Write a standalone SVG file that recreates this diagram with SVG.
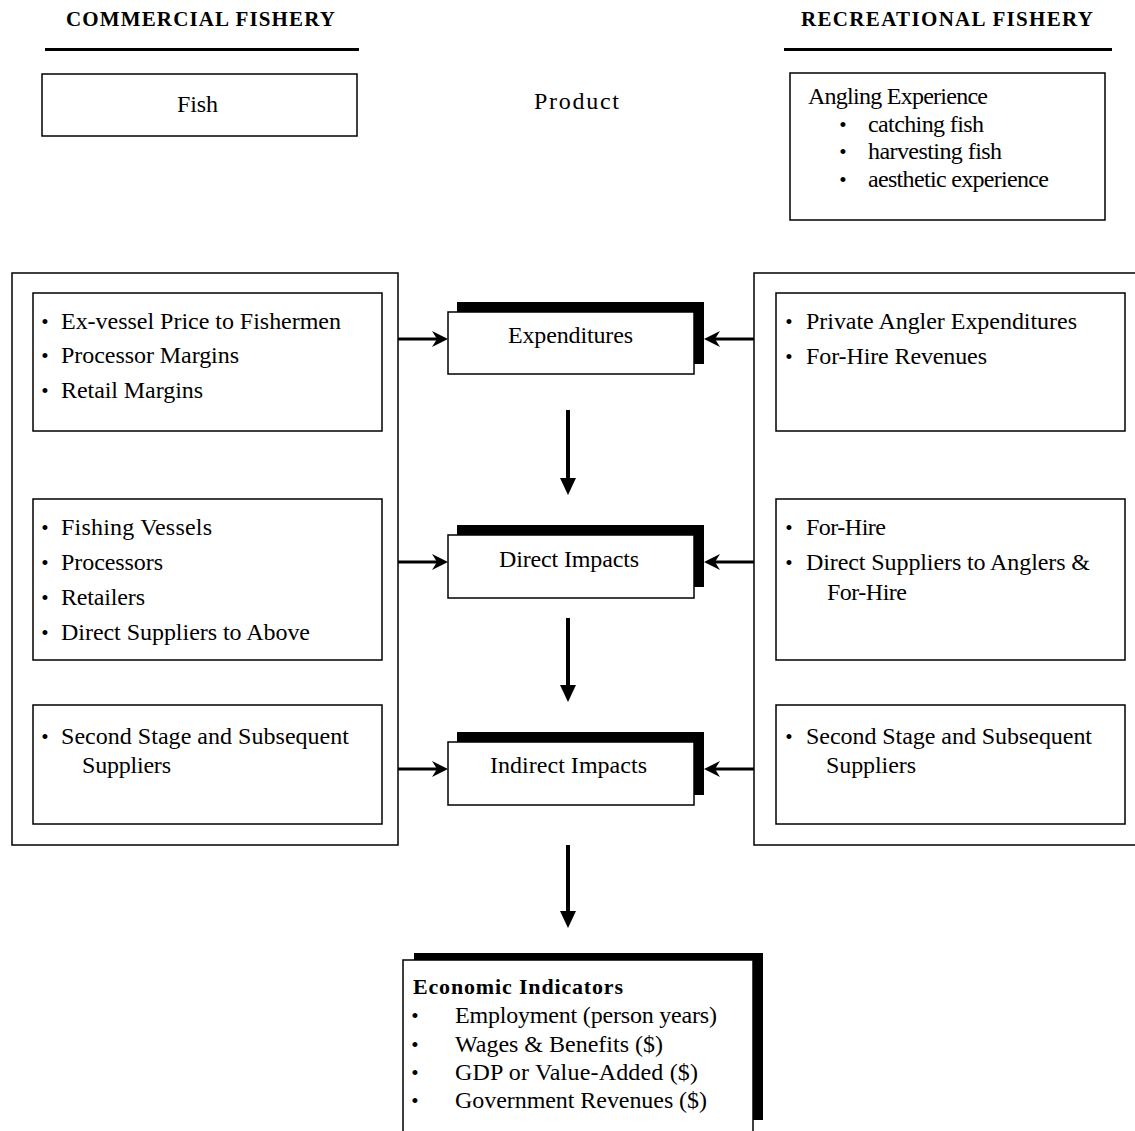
<svg xmlns="http://www.w3.org/2000/svg" width="1135" height="1131" viewBox="0 0 1135 1131">
<style>
.t{font-family:"Liberation Serif","Times New Roman",serif;font-size:24px;fill:#000}
.hd{font-family:"Liberation Serif","Times New Roman",serif;font-size:21px;font-weight:bold;fill:#000}
.bb{font-family:"Liberation Serif","Times New Roman",serif;font-size:22px;font-weight:bold;fill:#000}
.bu{font-family:"Liberation Serif","Times New Roman",serif;font-size:21px;fill:#000}
.box{fill:#fff;stroke:#000;stroke-width:1.5}
.sh{fill:#000}
.ha{stroke:#000;stroke-width:3;fill:none;marker-end:url(#ah)}
.va{stroke:#000;stroke-width:4;fill:none;marker-end:url(#dh)}
</style>
<defs>
<marker id="ah" viewBox="0 0 16 16" markerWidth="16" markerHeight="16" refX="8" refY="8" orient="auto" markerUnits="userSpaceOnUse"><path d="M0,0 L16,8 L0,16 L5,8 z" fill="#000"/></marker>
<marker id="dh" viewBox="0 0 17 16" markerWidth="17" markerHeight="16" refX="5" refY="8" orient="auto" markerUnits="userSpaceOnUse"><path d="M0,0 L17,8 L0,16 z" fill="#000"/></marker>
</defs>
<rect width="1135" height="1131" fill="#fff"/>

<g id="hdr-commercial">
<text class="hd" x="66" y="26" textLength="269">COMMERCIAL FISHERY</text>
<rect x="45" y="48" width="314" height="3" fill="#000"/>
</g>
<g id="hdr-recreational">
<text class="hd" x="801" y="26" textLength="292">RECREATIONAL FISHERY</text>
<rect x="784" y="48" width="328" height="3" fill="#000"/>
</g>

<g id="fish">
<rect class="box" x="42" y="74" width="315" height="62"/>
<text class="t" x="177" y="112" textLength="41">Fish</text>
</g>
<g id="product">
<text class="t" x="534" y="109" textLength="85">Product</text>
</g>
<g id="angling">
<rect class="box" x="790" y="73" width="315" height="147"/>
<text class="t" x="808" y="104" textLength="180">Angling Experience</text>
<text class="bu" x="843" y="132" text-anchor="middle">•</text>
<text class="t" x="868" y="132" textLength="116">catching fish</text>
<text class="bu" x="843" y="159" text-anchor="middle">•</text>
<text class="t" x="868" y="159" textLength="134">harvesting fish</text>
<text class="bu" x="843" y="187" text-anchor="middle">•</text>
<text class="t" x="868" y="187" textLength="181">aesthetic experience</text>
</g>

<g id="left-outer"><rect class="box" x="12" y="273" width="386" height="572"/></g>
<g id="right-outer"><rect class="box" x="754" y="273" width="400" height="572"/></g>

<g id="left-1">
<rect class="box" x="33" y="293" width="349" height="138"/>
<text class="bu" x="45" y="329" text-anchor="middle">•</text>
<text class="t" x="61" y="329" textLength="280">Ex-vessel Price to Fishermen</text>
<text class="bu" x="45" y="363" text-anchor="middle">•</text>
<text class="t" x="61" y="363" textLength="178">Processor Margins</text>
<text class="bu" x="45" y="398" text-anchor="middle">•</text>
<text class="t" x="61" y="398" textLength="142">Retail Margins</text>
</g>
<g id="left-2">
<rect class="box" x="33" y="499" width="349" height="161"/>
<text class="bu" x="45" y="535" text-anchor="middle">•</text>
<text class="t" x="61" y="535" textLength="151">Fishing Vessels</text>
<text class="bu" x="45" y="570" text-anchor="middle">•</text>
<text class="t" x="61" y="570" textLength="102">Processors</text>
<text class="bu" x="45" y="605" text-anchor="middle">•</text>
<text class="t" x="61" y="605" textLength="84">Retailers</text>
<text class="bu" x="45" y="640" text-anchor="middle">•</text>
<text class="t" x="61" y="640" textLength="249">Direct Suppliers to Above</text>
</g>
<g id="left-3">
<rect class="box" x="33" y="705" width="349" height="119"/>
<text class="bu" x="45" y="744" text-anchor="middle">•</text>
<text class="t" x="61" y="744" textLength="288">Second Stage and Subsequent</text>
<text class="t" x="82" y="773" textLength="89">Suppliers</text>
</g>

<g id="right-1">
<rect class="box" x="776" y="293" width="349" height="138"/>
<text class="bu" x="789" y="329" text-anchor="middle">•</text>
<text class="t" x="806" y="329" textLength="271">Private Angler Expenditures</text>
<text class="bu" x="789" y="364" text-anchor="middle">•</text>
<text class="t" x="806" y="364" textLength="181">For-Hire Revenues</text>
</g>
<g id="right-2">
<rect class="box" x="776" y="499" width="349" height="161"/>
<text class="bu" x="789" y="535" text-anchor="middle">•</text>
<text class="t" x="806" y="535" textLength="80">For-Hire</text>
<text class="bu" x="789" y="570" text-anchor="middle">•</text>
<text class="t" x="806" y="570" textLength="284">Direct Suppliers to Anglers &amp;</text>
<text class="t" x="827" y="600" textLength="80">For-Hire</text>
</g>
<g id="right-3">
<rect class="box" x="776" y="705" width="349" height="119"/>
<text class="bu" x="789" y="744" text-anchor="middle">•</text>
<text class="t" x="806" y="744" textLength="286">Second Stage and Subsequent</text>
<text class="t" x="826" y="773" textLength="90">Suppliers</text>
</g>

<g id="expenditures">
<rect class="sh" x="457" y="302" width="247" height="62"/>
<rect class="box" x="448" y="312" width="246" height="62"/>
<text class="t" x="508" y="343" textLength="125">Expenditures</text>
</g>
<g id="direct">
<rect class="sh" x="457" y="525" width="247" height="62"/>
<rect class="box" x="448" y="535" width="246" height="63"/>
<text class="t" x="499" y="567" textLength="140">Direct Impacts</text>
</g>
<g id="indirect">
<rect class="sh" x="457" y="732" width="247" height="63"/>
<rect class="box" x="448" y="742" width="246" height="63"/>
<text class="t" x="490" y="773" textLength="157">Indirect Impacts</text>
</g>

<g id="indicators">
<rect class="sh" x="414" y="953" width="349" height="167"/>
<rect class="box" x="403" y="960" width="350" height="185"/>
<text class="bb" x="413" y="994" textLength="210">Economic Indicators</text>
<text class="bu" x="415" y="1023" text-anchor="middle">•</text>
<text class="t" x="455" y="1023" textLength="262">Employment (person years)</text>
<text class="bu" x="415" y="1052" text-anchor="middle">•</text>
<text class="t" x="455" y="1052" textLength="208">Wages &amp; Benefits ($)</text>
<text class="bu" x="415" y="1080" text-anchor="middle">•</text>
<text class="t" x="455" y="1080" textLength="243">GDP or Value-Added ($)</text>
<text class="bu" x="415" y="1108" text-anchor="middle">•</text>
<text class="t" x="455" y="1108" textLength="252">Government Revenues ($)</text>
</g>

<g id="connectors">
<line class="ha" x1="398" y1="339" x2="440" y2="339"/>
<line class="ha" x1="754" y1="339" x2="712" y2="339"/>
<line class="ha" x1="398" y1="562" x2="440" y2="562"/>
<line class="ha" x1="754" y1="562" x2="712" y2="562"/>
<line class="ha" x1="398" y1="769" x2="440" y2="769"/>
<line class="ha" x1="754" y1="769" x2="712" y2="769"/>
<line class="va" x1="568" y1="410" x2="568" y2="483"/>
<line class="va" x1="568" y1="618" x2="568" y2="690"/>
<line class="va" x1="568" y1="845" x2="568" y2="916"/>
</g>
</svg>
